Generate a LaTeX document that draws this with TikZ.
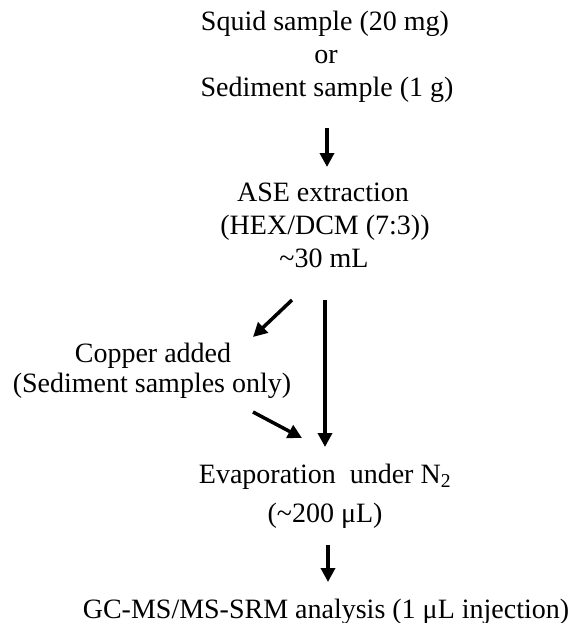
\documentclass[tikz,border=0pt]{standalone}
\usepackage{fontspec}
\setmainfont{Liberation Serif}
\usetikzlibrary{arrows.meta}
\begin{document}
\begin{tikzpicture}[x=1pt, y=-1pt,
  txt/.style={font=\fontsize{28}{33}\selectfont, anchor=base, inner sep=0pt},
  flow/.style={line width=3.5pt, -{Triangle[width=14pt,length=14pt]}}]
\useasboundingbox (0,0) rectangle (576,623);
\node[txt] (squid) at (325,31){Squid sample (20 mg)};
\node[txt] (or) at (326,64){or};
\node[txt] (sed) at (327,97){Sediment sample (1 g)};
\node[txt] (ase) at (323,201){ASE extraction};
\node[txt] (hex) at (325,234){(HEX/DCM (7:3))};
\node[txt] (vol) at (324,267){\textasciitilde30 mL};
\node[txt] (cu) at (153,362){Copper added};
\node[txt] (cuonly) at (152,392){(Sediment samples only)};
\node[txt] (evap) at (325,483){Evaporation\ \ under N\textsubscript{2}};
\node[txt] (evapvol) at (325,522){(\textasciitilde200 μL)};
\node[txt] (gc) at (326,618){GC-MS/MS-SRM analysis (1 μL injection)};
\coordinate (a1s) at (327,128);
\coordinate (a1e) at (327,167);
\draw[flow](a1s) -- (a1e);
\coordinate (a2s) at (325,300);
\coordinate (a2e) at (325,447);
\draw[flow](a2s) -- (a2e);
\coordinate (a3s) at (292,300);
\coordinate (a3e) at (253,337);
\draw[flow](a3s) -- (a3e);
\coordinate (a4s) at (253,412);
\coordinate (a4e) at (302,438);
\draw[flow](a4s) -- (a4e);
\coordinate (a5s) at (328,545);
\coordinate (a5e) at (328,582);
\draw[flow](a5s) -- (a5e);
\end{tikzpicture}
\end{document}
